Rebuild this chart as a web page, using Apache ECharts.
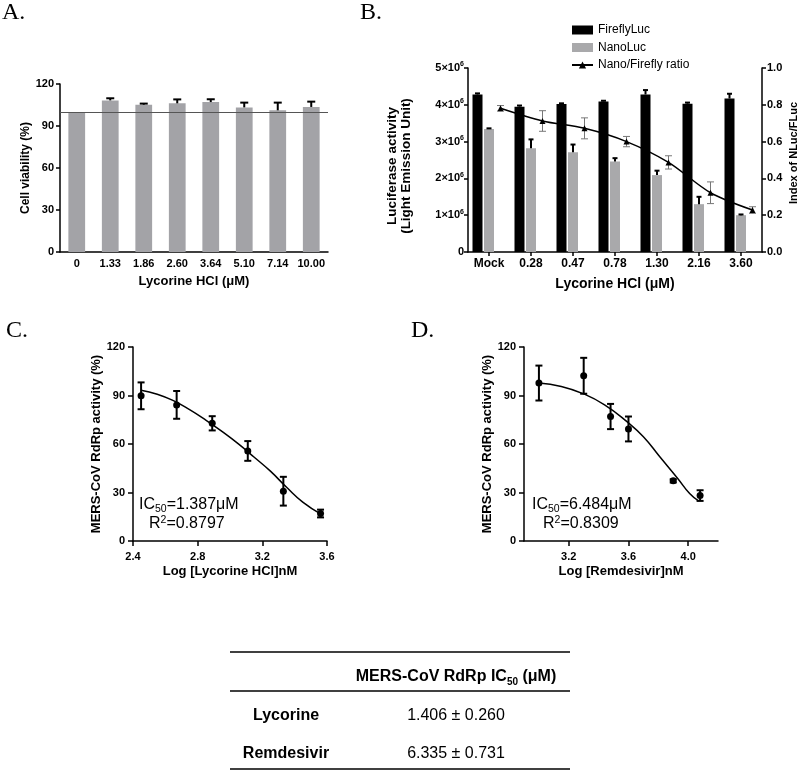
<!DOCTYPE html>
<html><head><meta charset="utf-8">
<script src="https://cdn.jsdelivr.net/npm/echarts@6/dist/echarts.min.js"></script>
<style>html,body{margin:0;padding:0;background:#fff}#c{width:798px;height:771px}</style>
</head><body><div id="c"></div>
<script>
// ---------- Panel A: cell viability ----------
const A_CATS = ['0', '1.33', '1.86', '2.60', '3.64', '5.10', '7.14', '10.00'];
const A_VIAB = [100, 108.3, 105.2, 106.2, 107.1, 103.3, 101.2, 103.6];
const A_ERR = [0, 1.5, 0.8, 2.8, 2.0, 3.4, 5.5, 3.8];
const A_REF = 100;

// ---------- Panel B: luciferase ----------
const B_CATS = ['Mock', '0.28', '0.47', '0.78', '1.30', '2.16', '3.60'];
const B_FIREFLY = [4280000, 3950000, 4020000, 4090000, 4280000, 4030000, 4170000];
const B_FIREFLY_ERR = [30000, 30000, 20000, 20000, 120000, 30000, 130000];
const B_NANO = [3340000, 2820000, 2710000, 2460000, 2090000, 1300000, 1000000];
const B_NANO_ERR = [20000, 240000, 210000, 90000, 120000, 200000, 20000];
const B_RATIO = [0.781, 0.712, 0.672, 0.600, 0.487, 0.322, 0.228];
const B_RATIO_ERR = [0.015, 0.056, 0.057, 0.028, 0.036, 0.059, 0.018];

// ---------- Panel C: lycorine dose-response ----------
const C_LOGX = [2.45, 2.67, 2.89, 3.11, 3.33, 3.56];
const C_ACT = [89.8, 84.2, 72.8, 55.7, 30.8, 17.0];
const C_SD = [8.3, 8.6, 4.4, 6.1, 8.9, 2.4];
const C_FIT_X = [2.45, 2.55, 2.65, 2.75, 2.85, 2.95, 3.05, 3.15, 3.25, 3.35, 3.45, 3.56];
const C_FIT_Y = [93.2, 90.8, 86.8, 81.2, 74.8, 67.8, 60.2, 51.8, 43.2, 33.2, 24.0, 16.8];
const C_XTICKS = [2.4, 2.8, 3.2, 3.6];

// ---------- Panel D: remdesivir dose-response ----------
const D_LOGX = [3.00, 3.30, 3.48, 3.60, 3.90, 4.08];
const D_ACT = [97.7, 102.2, 77.0, 69.3, 37.2, 28.1];
const D_SD = [10.8, 11.1, 7.8, 7.7, 1.0, 3.3];
const D_FIT_X = [3.00, 3.15, 3.30, 3.44, 3.59, 3.70, 3.81, 3.93, 4.01, 4.07];
const D_FIT_Y = [97.7, 95.6, 91.0, 84.2, 73.8, 64.5, 52.1, 38.7, 29.4, 24.8];
const D_XTICKS = [3.2, 3.6, 4.0];

// ---------- Table ----------
const TABLE_DRUGS = ['Lycorine', 'Remdesivir'];
const TABLE_IC50 = ['1.406 ± 0.260', '6.335 ± 0.731'];
const FIT_TEXT = { C: ['1.387', '0.8797'], D: ['6.484', '0.8309'] };

// ---------- layout / style ----------
const SANS = '"Liberation Sans", Arial, Helvetica, sans-serif';
const SERIF = '"Liberation Serif", "Times New Roman", serif';
const GRID_A = { left: 60, top: 84, width: 268, height: 168 };
const GRID_B = { left: 468, top: 68, width: 294, height: 184 };
const GRID_C = { left: 133, top: 347, width: 194, height: 194 };
const GRID_D = { left: 524, top: 347, width: 194, height: 194 };
const B_BAR_W = 10, B_BAR_GAP = 0.15, B_SLOTS = 3;
const slotOffset = k => (k - (B_SLOTS - 1) / 2) * B_BAR_W * (1 + B_BAR_GAP);
const B_LINE_SHIFT = slotOffset(2) / (GRID_B.width / B_CATS.length);

const chart = echarts.init(document.getElementById('c'));

function axisBase() {
  return {
    axisLine: { show: true, onZero: false, lineStyle: { color: '#000', width: 1.5 } },
    axisTick: { show: true, length: 4, lineStyle: { color: '#000', width: 1.5 } },
    axisLabel: { color: '#000', fontFamily: SANS, fontWeight: 'bold', fontSize: 11 },
    splitLine: { show: false },
    nameLocation: 'middle',
    nameTextStyle: { color: '#000', fontFamily: SANS, fontWeight: 'bold', fontSize: 13 }
  };
}
function ax(over) {
  const base = axisBase();
  const o = Object.assign({}, base);
  for (const k in over) {
    if (over[k] && typeof over[k] === 'object' && !Array.isArray(over[k]) && base[k] && typeof base[k] === 'object') {
      o[k] = Object.assign({}, base[k], over[k]);
    } else o[k] = over[k];
  }
  return o;
}

// upper-only error bar for bars (x = category index, values/errors looked up by index)
function upperErr(vals, errs, offsetPx, cap, width) {
  return function (params, api) {
    const i = params.dataIndex;
    const v = vals[i], e = errs[i];
    if (!e) return null;
    const p0 = api.coord([i, v]), p1 = api.coord([i, v + e]);
    const x = p0[0] + offsetPx;
    const st = { stroke: '#000', lineWidth: width };
    return { type: 'group', children: [
      { type: 'line', shape: { x1: x, y1: p0[1], x2: x, y2: p1[1] }, style: st },
      { type: 'line', shape: { x1: x - cap / 2, y1: p1[1], x2: x + cap / 2, y2: p1[1] }, style: st }
    ] };
  };
}
// symmetric error bar
function bothErr(xs, vals, errs, cap, width, color) {
  return function (params, api) {
    const i = params.dataIndex;
    const x = xs[i], v = vals[i], e = errs[i];
    const pt = api.coord([x, v + e]), pb = api.coord([x, v - e]);
    const cx = pt[0];
    const st = { stroke: color, lineWidth: width };
    return { type: 'group', children: [
      { type: 'line', shape: { x1: cx, y1: pt[1], x2: cx, y2: pb[1] }, style: st },
      { type: 'line', shape: { x1: cx - cap / 2, y1: pt[1], x2: cx + cap / 2, y2: pt[1] }, style: st },
      { type: 'line', shape: { x1: cx - cap / 2, y1: pb[1], x2: cx + cap / 2, y2: pb[1] }, style: st }
    ] };
  };
}

const sciRich = {
  a: { fontFamily: SANS, fontWeight: 'bold', fontSize: 11, color: '#000', lineHeight: 14 },
  s: { fontFamily: SANS, fontWeight: 'bold', fontSize: 7, color: '#000', lineHeight: 8, verticalAlign: 'top' }
};

function txt(x, y, text, opt) {
  return { type: 'text', x: x, y: y, silent: true, style: Object.assign({
    text: text, fill: '#000', fontFamily: SANS, fontSize: 16,
    align: 'left', verticalAlign: 'middle'
  }, opt || {}) };
}
function fitText(x, y1, x2, y2, vals) {
  const rich = {
    m: { fontFamily: SANS, fontSize: 16, color: '#000', lineHeight: 19 },
    s: { fontFamily: SANS, fontSize: 10.5, color: '#000', lineHeight: 10, verticalAlign: 'bottom' },
    p: { fontFamily: SANS, fontSize: 10.5, color: '#000', lineHeight: 10, verticalAlign: 'top' }
  };
  return [
    txt(x, y1, '{m|IC}{s|50}{m|=' + vals[0] + 'μM}', { rich: rich }),
    txt(x2, y2, '{m|R}{p|2}{m|=' + vals[1] + '}', { rich: rich })
  ];
}

const tableRich = {
  b: { fontFamily: SANS, fontSize: 16, fontWeight: 'bold', color: '#000', lineHeight: 20 },
  s: { fontFamily: SANS, fontSize: 10, fontWeight: 'bold', color: '#000', lineHeight: 10, verticalAlign: 'bottom' }
};
const hline = (y) => ({ type: 'line', silent: true, shape: { x1: 230, y1: y, x2: 570, y2: y }, style: { stroke: '#000', lineWidth: 1.5 } });

const graphics = [
  txt(2, 13, 'A.', { fontFamily: SERIF, fontSize: 24 }),
  txt(360, 13, 'B.', { fontFamily: SERIF, fontSize: 24 }),
  txt(6, 331, 'C.', { fontFamily: SERIF, fontSize: 24 }),
  txt(411, 331, 'D.', { fontFamily: SERIF, fontSize: 24 }),
  ...fitText(139, 505, 149, 524, FIT_TEXT.C),
  ...fitText(532, 505, 543, 524, FIT_TEXT.D),
  hline(652), hline(691), hline(769),
  txt(456, 677, '{b|MERS-CoV RdRp IC}{s|50}{b| (μM)}', { rich: tableRich, align: 'center' }),
];
TABLE_DRUGS.forEach((d, k) => {
  const y = 716 + k * 38;
  graphics.push(txt(286, y, d, { fontWeight: 'bold', align: 'center' }));
  graphics.push(txt(456, y, TABLE_IC50[k], { align: 'center' }));
});

const option = {
  animation: false,
  backgroundColor: '#fff',
  textStyle: { fontFamily: SANS },
  grid: [GRID_A, GRID_B, GRID_C, GRID_D].map(g => Object.assign({ containLabel: false, outerBoundsMode: 'none' }, g)),
  legend: {
    orient: 'vertical', left: 566, top: 18, itemWidth: 21, itemHeight: 9, itemGap: 3.5,
    textStyle: { color: '#000', fontFamily: SANS, fontSize: 12, lineHeight: 14 },
    data: [{ name: 'FireflyLuc', icon: 'rect' }, { name: 'NanoLuc', icon: 'rect' }, { name: 'Nano/Firefly ratio' }]
  },
  xAxis: [
    ax({ type: 'category', gridIndex: 0, data: A_CATS, name: 'Lycorine HCl (μM)', nameGap: 23,
      axisTick: { show: false }, axisLabel: { margin: 6, fontSize: 11, interval: 0 } }),
    ax({ type: 'category', gridIndex: 1, data: B_CATS, name: 'Lycorine HCl (μM)', nameGap: 25,
      nameTextStyle: { fontSize: 14 },
      axisTick: { alignWithLabel: true, interval: 0 }, axisLabel: { margin: 6, fontSize: 12, interval: 0 } }),
    { type: 'value', gridIndex: 1, min: -0.5, max: B_CATS.length - 0.5, show: false,
      axisLine: { show: false, onZero: false } },
    ax({ type: 'value', gridIndex: 2, min: C_XTICKS[0], max: C_XTICKS[C_XTICKS.length - 1],
      name: 'Log [Lycorine HCl]nM', nameGap: 24,
      axisTick: { length: 5, customValues: C_XTICKS },
      axisLabel: { margin: 10, customValues: C_XTICKS, formatter: v => v.toFixed(1) } }),
    ax({ type: 'value', gridIndex: 3, min: 2.9, max: 4.2,
      name: 'Log [Remdesivir]nM', nameGap: 24,
      axisTick: { length: 5, customValues: D_XTICKS },
      axisLabel: { margin: 10, customValues: D_XTICKS, formatter: v => v.toFixed(1) } })
  ],
  yAxis: [
    ax({ type: 'value', gridIndex: 0, min: 0, max: 120, interval: 30, name: 'Cell viability (%)', nameGap: 21,
      nameTextStyle: { fontSize: 12 }, axisLabel: { margin: 6 } }),
    ax({ type: 'value', gridIndex: 1, min: 0, max: 5000000, interval: 1000000,
      name: 'Luciferase activity\n(Light Emission Unit)', nameGap: 54,
      nameTextStyle: { fontSize: 13.5, lineHeight: 14.5, padding: [0, 12, 0, 0] },
      axisLabel: { margin: 4, formatter: v => v === 0 ? '{a|0}' : '{a|' + (v / 1000000) + '×10}{s|6}', rich: sciRich } }),
    ax({ type: 'value', gridIndex: 1, position: 'right', min: 0, max: 1, interval: 0.2,
      name: 'Index of NLuc/FLuc', nameGap: 26, nameRotate: 90, nameTextStyle: { fontSize: 11, padding: [0, 0, 0, 14] },
      axisLabel: { margin: 5, formatter: v => v.toFixed(1) } }),
    ax({ type: 'value', gridIndex: 2, min: 0, max: 120, interval: 30,
      name: 'MERS-CoV RdRp activity (%)', nameGap: 29, axisTick: { length: 5 }, axisLabel: { margin: 8 } }),
    ax({ type: 'value', gridIndex: 3, min: 0, max: 120, interval: 30,
      name: 'MERS-CoV RdRp activity (%)', nameGap: 30, axisTick: { length: 5 }, axisLabel: { margin: 8 } })
  ],
  series: [
    // A
    { type: 'bar', name: 'viability', xAxisIndex: 0, yAxisIndex: 0, data: A_VIAB, barWidth: '50%',
      itemStyle: { color: '#a3a3a7' },
      markLine: { silent: true, symbol: 'none', label: { show: false },
        lineStyle: { color: '#555', width: 1, type: 'solid' }, data: [{ yAxis: A_REF }] } },
    { type: 'custom', xAxisIndex: 0, yAxisIndex: 0, renderItem: upperErr(A_VIAB, A_ERR, 0, 8, 2), z: 3,
      data: A_VIAB.map((v, i) => [i, v]) },
    // B
    { type: 'bar', name: 'FireflyLuc', xAxisIndex: 1, yAxisIndex: 1, data: B_FIREFLY,
      barWidth: B_BAR_W, barGap: (B_BAR_GAP * 100) + '%', itemStyle: { color: '#000' } },
    { type: 'bar', name: 'NanoLuc', xAxisIndex: 1, yAxisIndex: 1, data: B_NANO,
      barWidth: B_BAR_W, barGap: (B_BAR_GAP * 100) + '%', itemStyle: { color: '#a9a9ab' } },
    { type: 'bar', name: '_slot', xAxisIndex: 1, yAxisIndex: 1, data: B_CATS.map(() => 0),
      barWidth: B_BAR_W, barGap: (B_BAR_GAP * 100) + '%', itemStyle: { color: 'rgba(0,0,0,0)' }, silent: true },
    { type: 'custom', xAxisIndex: 1, yAxisIndex: 1, renderItem: upperErr(B_FIREFLY, B_FIREFLY_ERR, slotOffset(0), 5, 2), z: 3,
      data: B_FIREFLY.map((v, i) => [i, v]) },
    { type: 'custom', xAxisIndex: 1, yAxisIndex: 1, renderItem: upperErr(B_NANO, B_NANO_ERR, slotOffset(1), 5, 2), z: 3,
      data: B_NANO.map((v, i) => [i, v]) },
    { type: 'line', name: 'Nano/Firefly ratio', xAxisIndex: 2, yAxisIndex: 2, smooth: 0.3,
      symbol: 'triangle', symbolSize: 6, showSymbol: true,
      lineStyle: { color: '#000', width: 1.5 }, itemStyle: { color: '#000' }, z: 4,
      data: B_RATIO.map((v, i) => [i + B_LINE_SHIFT, v]) },
    { type: 'custom', xAxisIndex: 2, yAxisIndex: 2, z: 3,
      renderItem: bothErr(B_RATIO.map((v, i) => i + B_LINE_SHIFT), B_RATIO, B_RATIO_ERR, 7, 1, '#777'),
      data: B_RATIO.map((v, i) => [i + B_LINE_SHIFT, v]) },
    // C
    { type: 'line', xAxisIndex: 3, yAxisIndex: 3, smooth: true, showSymbol: false,
      lineStyle: { color: '#000', width: 1.5 }, data: C_FIT_X.map((x, i) => [x, C_FIT_Y[i]]) },
    { type: 'custom', xAxisIndex: 3, yAxisIndex: 3, renderItem: bothErr(C_LOGX, C_ACT, C_SD, 7, 2, '#000'),
      data: C_LOGX.map((x, i) => [x, C_ACT[i]]) },
    { type: 'scatter', xAxisIndex: 3, yAxisIndex: 3, symbolSize: 7, itemStyle: { color: '#000', opacity: 1 }, z: 5,
      data: C_LOGX.map((x, i) => [x, C_ACT[i]]) },
    // D
    { type: 'line', xAxisIndex: 4, yAxisIndex: 4, smooth: true, showSymbol: false,
      lineStyle: { color: '#000', width: 1.5 }, data: D_FIT_X.map((x, i) => [x, D_FIT_Y[i]]) },
    { type: 'custom', xAxisIndex: 4, yAxisIndex: 4, renderItem: bothErr(D_LOGX, D_ACT, D_SD, 7, 2, '#000'),
      data: D_LOGX.map((x, i) => [x, D_ACT[i]]) },
    { type: 'scatter', xAxisIndex: 4, yAxisIndex: 4, symbolSize: 7, itemStyle: { color: '#000', opacity: 1 }, z: 5,
      data: D_LOGX.map((x, i) => [x, D_ACT[i]]) }
  ],
  graphic: graphics
};
chart.setOption(option);
</script></body></html>
